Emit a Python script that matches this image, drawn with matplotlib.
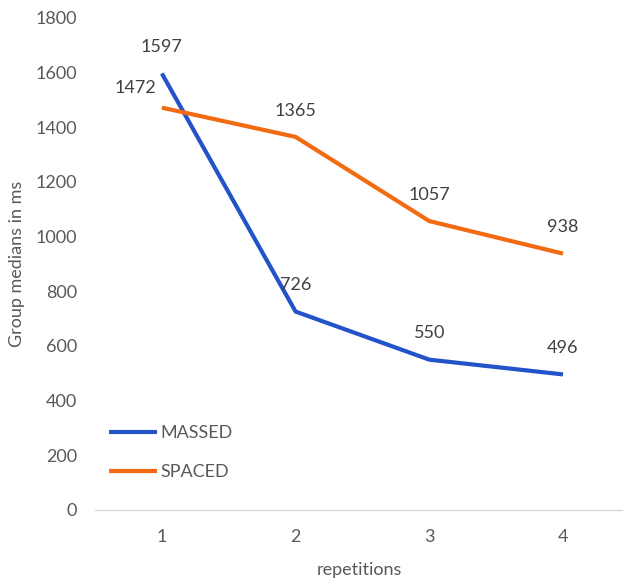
import matplotlib
matplotlib.use("Agg")
import matplotlib.pyplot as plt

repetitions = [1, 2, 3, 4]
massed = [1597, 726, 550, 496]
spaced = [1472, 1365, 1057, 938]
y_ticks = [0, 200, 400, 600, 800, 1000, 1200, 1400, 1600, 1800]

plt.rcParams['font.family'] = ['Lato', 'DejaVu Sans']
gray = '#595959'

fig = plt.figure(figsize=(6.23, 5.81), dpi=100)
ax = fig.add_axes([95/623, (581-510)/581, (623-95)/623, (510-18)/581])

blue = '#2253C8'
orange = '#F26A12'
l1, = ax.plot(repetitions, massed, color=blue, lw=3, solid_capstyle='butt', label='MASSED')
l2, = ax.plot(repetitions, spaced, color=orange, lw=3, solid_capstyle='butt', label='SPACED')

for i, (x, v) in enumerate(zip(repetitions, massed)):
    ax.annotate(str(v), (x, v), xytext=(0, 19), textcoords='offset points',
                ha='center', va='center', fontsize=13, color='#404040')
for i, (x, v) in enumerate(zip(repetitions, spaced)):
    if i == 0:
        off = (-19, 14)
    else:
        off = (0, 19)
    ax.annotate(str(v), (x, v), xytext=off, textcoords='offset points',
                ha='center', va='center', fontsize=13, color='#404040')

ax.set_xlim(0.5, 4 + (623 - 563) / 133.7)
ax.set_ylim(0, 1800)
ax.set_yticks(y_ticks)
ax.set_xticks(repetitions)
ax.tick_params(length=0, labelsize=13, colors=gray)
ax.tick_params(axis='x', pad=14)
ax.tick_params(axis='y', pad=13)
for s in ['top', 'right', 'left']:
    ax.spines[s].set_visible(False)
ax.spines['bottom'].set_color('#D9D9D9')
ax.spines['bottom'].set_linewidth(1)

ax.set_xlabel('repetitions', fontsize=13, color=gray, labelpad=12)
ax.set_ylabel('Group medians in ms', fontsize=13, color=gray)
ax.yaxis.set_label_coords(-70/528, 0.5)

leg = ax.legend(handles=[l1, l2], loc='lower left', bbox_to_anchor=(-0.005, 0.028),
                frameon=False, fontsize=13, handlelength=2.7, handletextpad=0.15,
                labelspacing=1.25, labelcolor=gray)

fig.savefig('out.png', dpi=100)
